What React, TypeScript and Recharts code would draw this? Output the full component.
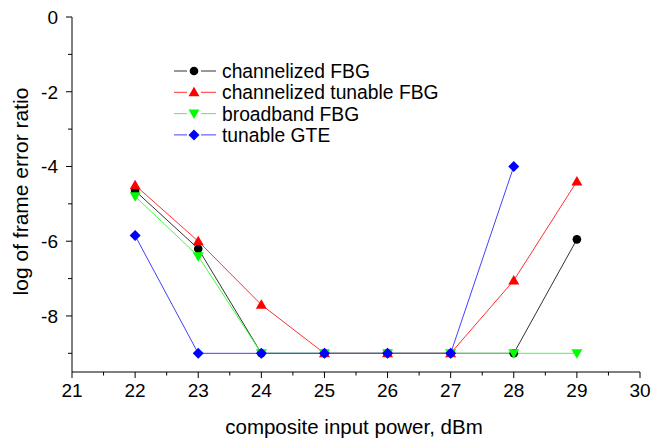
import React from 'react';
import { LineChart, Line, XAxis, YAxis, Legend } from 'recharts';

const powers = [22, 23, 24, 25, 26, 27, 28, 29];
const channelizedFBG = [-4.65, -6.2, -9, -9, -9, -9, -9, -5.95];
const channelizedTunableFBG = [-4.5, -6.0, -7.7, -9, -9, -9, -7.05, -4.4];
const broadbandFBG = [-4.8, -6.4, -9, -9, -9, -9, -9, -9];
const tunableGTE: (number | null)[] = [-5.85, -9, -9, -9, -9, -9, -4.0, null];

const xTicks = [21, 21.5, 22, 22.5, 23, 23.5, 24, 24.5, 25, 25.5, 26, 26.5, 27, 27.5, 28, 28.5, 29, 29.5, 30];
const yTicks = [0, -1, -2, -3, -4, -5, -6, -7, -8, -9];

const seriesDefs = [
  { key: 'cf', name: 'channelized FBG', color: '#000000', line: '#333333', shape: 'circle', values: channelizedFBG },
  { key: 'ctf', name: 'channelized tunable FBG', color: '#ff0000', line: '#ff3030', shape: 'up', values: channelizedTunableFBG },
  { key: 'bf', name: 'broadband FBG', color: '#00ff00', line: '#40ff40', shape: 'down', values: broadbandFBG },
  { key: 'tg', name: 'tunable GTE', color: '#0000ff', line: '#4040ff', shape: 'diamond', values: tunableGTE },
];

const data = powers.map((p, i) => {
  const row: any = { x: p };
  seriesDefs.forEach((s) => {
    row[s.key] = s.values[i];
  });
  return row;
});

const FONT = '"Liberation Sans", Arial, sans-serif';

function marker(shape: string, cx: number, cy: number, color: string, key?: any) {
  if (shape === 'circle') return <circle key={key} cx={cx} cy={cy} r={4.3} fill={color} />;
  if (shape === 'up')
    return <polygon key={key} points={`${cx},${cy - 5.5} ${cx + 5.5},${cy + 4} ${cx - 5.5},${cy + 4}`} fill={color} />;
  if (shape === 'down')
    return <polygon key={key} points={`${cx},${cy + 5.5} ${cx + 5.5},${cy - 4} ${cx - 5.5},${cy - 4}`} fill={color} />;
  return <polygon key={key} points={`${cx},${cy - 5.5} ${cx + 5.5},${cy} ${cx},${cy + 5.5} ${cx - 5.5},${cy}`} fill={color} />;
}

const XTick = (props: any) => {
  const { x, y, payload } = props;
  const v = payload.value;
  const major = Number.isInteger(v);
  return (
    <g>
      <line x1={x} x2={x} y1={y} y2={y + (major ? 6 : 3.5)} stroke="#000" strokeWidth={1} />
      {major && (
        <text x={x} y={y + 25} textAnchor="middle" fontSize={19} fontFamily={FONT} fill="#000">
          {v}
        </text>
      )}
    </g>
  );
};

const YTick = (props: any) => {
  const { x, y, payload } = props;
  const v = payload.value;
  const major = v % 2 === 0;
  return (
    <g>
      <line x1={x} x2={x - (major ? 6 : 4)} y1={y} y2={y} stroke="#000" strokeWidth={1} />
      {major && (
        <text x={x - 14} y={y + 7} textAnchor="end" fontSize={19} fontFamily={FONT} fill="#000">
          {v === 0 ? '0' : `-${Math.abs(v)}`}
        </text>
      )}
    </g>
  );
};

const LegendContent = () => {
  return (
    <svg width={290} height={92} style={{ display: 'block' }}>
      {seriesDefs.map((def, i) => {
        const cy = 11 + i * 21.3;
        return (
          <g key={def.key}>
            <line x1={4} x2={17} y1={cy} y2={cy} stroke={def.line} strokeWidth={1} />
            <line x1={31} x2={46} y1={cy} y2={cy} stroke={def.line} strokeWidth={1} />
            {marker(def.shape, 24, cy, def.color)}
            <text x={52} y={cy + 7} fontSize={19.3} fontFamily={FONT} fill="#000">
              {def.name}
            </text>
          </g>
        );
      })}
    </svg>
  );
};

export default function App() {
  return (
    <div style={{ position: 'absolute', left: 0, top: 0, background: '#fff' }}>
      <LineChart width={652} height={438} data={data} margin={{ top: 17, right: 12, left: 0, bottom: 0 }}>
        <XAxis
          dataKey="x"
          type="number"
          domain={[21, 30]}
          ticks={xTicks}
          interval={0}
          height={66}
          tickSize={0}
          tickMargin={0}
          tickLine={false}
          tick={<XTick />}
          axisLine={{ stroke: '#000', strokeWidth: 1 }}
          allowDataOverflow
          label={{
            content: (p: any) => {
              const vb = p.viewBox;
              return (
                <text x={vb.x + vb.width / 2 - 2} y={vb.y + 62} textAnchor="middle" fontSize={20.5} fontFamily={FONT} fill="#000">
                  composite input power, dBm
                </text>
              );
            },
          }}
        />
        <YAxis
          type="number"
          domain={[-9.5, 0]}
          ticks={yTicks}
          interval={0}
          width={72}
          tickSize={0}
          tickMargin={0}
          tickLine={false}
          tick={<YTick />}
          axisLine={{ stroke: '#000', strokeWidth: 1 }}
          allowDataOverflow
          label={{
            content: (p: any) => {
              const vb = p.viewBox;
              const cx = 28;
              const cy = vb.y + vb.height / 2 - 3;
              return (
                <text x={cx} y={cy} transform={`rotate(-90, ${cx}, ${cy})`} textAnchor="middle" fontSize={21} fontFamily={FONT} fill="#000">
                  log of frame error ratio
                </text>
              );
            },
          }}
        />
        <Legend
          layout="vertical"
          align="center"
          verticalAlign="middle"
          content={<LegendContent />}
          wrapperStyle={{ position: 'absolute', left: 170, top: 60, width: 290, height: 92 }}
        />
        {seriesDefs.map((s) => (
          <Line
            key={s.key}
            dataKey={s.key}
            name={s.name}
            stroke={s.line}
            strokeWidth={1}
            isAnimationActive={false}
            connectNulls={false}
            dot={(p: any) => {
              if (p.cx == null || p.cy == null || p.value == null) return <g key={`${s.key}-${p.index}`} />;
              return marker(s.shape, p.cx, p.cy, s.color, `${s.key}-${p.index}`);
            }}
            activeDot={false}
          />
        ))}
      </LineChart>
    </div>
  );
}
